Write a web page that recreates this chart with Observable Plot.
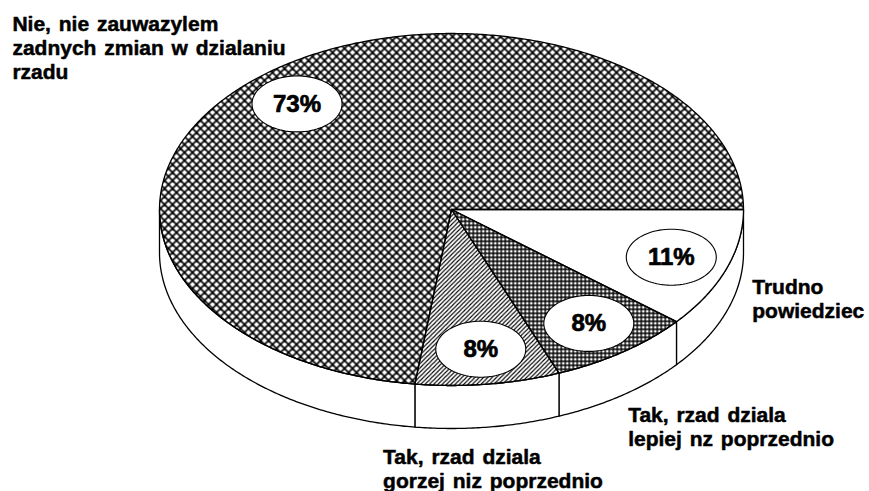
<!DOCTYPE html>
<html><head><meta charset="utf-8">
<script src="https://cdn.jsdelivr.net/npm/d3@7"></script>
<script src="https://cdn.jsdelivr.net/npm/@observablehq/plot@0.6"></script>
<style>
body{margin:0;background:#fff;}
</style></head><body><div id="chart"></div>
<script>
// ---- data (clockwise from 3 o'clock) ----
const categories = ["Trudno powiedziec", "Tak, rzad dziala lepiej nz poprzednio", "Tak, rzad dziala gorzej niz poprzednio", "Nie, nie zauwazylem zadnych zmian w dzialaniu rzadu"];
const categoryLines = [["Trudno", "powiedziec"], ["Tak, rzad dziala", "lepiej nz poprzednio"], ["Tak, rzad dziala", "gorzej niz poprzednio"], ["Nie, nie zauwazylem", "zadnych zmian w dzialaniu", "rzadu"]];
const values = [11, 8, 8, 73];
const percentLabels = ["11%", "8%", "8%", "73%"];

// ---- styles / layout ----
const fills = ["white", "url(#pGrid)", "url(#pDiag)", "url(#pCross)"];
const labelOffsets = [[26, -35], [5, 10], [-105, 20], [-246, -64]]; // dx, dy from slice rim
const W = 869, H = 491;
const CX = 451, CY = 209, RX = 292, RY = 176, DEPTH_PX = 43;
const depth = DEPTH_PX / RY;
const FONT = "'Liberation Sans', Arial, Helvetica, sans-serif";

const total = d3.sum(values);
const ends = Array.from(d3.cumsum(values));
const slices = values.map((v, i) => {
  const a1 = ends[i] / total * 2 * Math.PI;
  const a0 = (ends[i] - v) / total * 2 * Math.PI;
  return {i, a0, a1, mid: (a0 + a1) / 2};
});

function arc(a0, a1, dy = 0) {
  const n = Math.max(2, Math.ceil(Math.abs(a1 - a0) / (Math.PI / 360)));
  return d3.range(n + 1).map(k => {
    const a = a0 + (a1 - a0) * k / n;
    return {x: Math.cos(a), y: Math.sin(a) + dy};
  });
}

const marks = [];
// side walls (front half only)
for (const s of slices) {
  const s0 = Math.max(s.a0, 0), s1 = Math.min(s.a1, Math.PI);
  if (s1 > s0) {
    const pts = [...arc(s0, s1, 0), ...arc(s1, s0, depth)];
    marks.push(Plot.line(pts, {x: "x", y: "y", curve: "linear-closed", fill: "white", stroke: "black", strokeWidth: 1.3}));
  }
}
// top faces
for (const s of slices) {
  const pts = [{x: 0, y: 0}, ...arc(s.a0, s.a1, 0)];
  marks.push(Plot.line(pts, {x: "x", y: "y", curve: "linear-closed", fill: fills[s.i], stroke: "black", strokeWidth: 1.3}));
}
// percent label ellipses
const LR = 0.8, ERX = 45 / RX, ERY = 28 / RY;
for (const s of slices) {
  const cx = LR * Math.cos(s.mid), cy = LR * Math.sin(s.mid);
  const pts = d3.range(96).map(k => {
    const a = k / 96 * 2 * Math.PI;
    return {x: cx + ERX * Math.cos(a), y: cy + ERY * Math.sin(a)};
  });
  marks.push(Plot.line(pts, {x: "x", y: "y", curve: "linear-closed", fill: "white", stroke: "black", strokeWidth: 1.1}));
}
const pctData = slices.map(s => ({x: LR * Math.cos(s.mid), y: LR * Math.sin(s.mid), t: percentLabels[s.i]}));
marks.push(Plot.text(pctData, {x: "x", y: "y", text: "t", fontSize: 24, fontWeight: "bold", fontFamily: FONT, fill: "black", stroke: "black", strokeWidth: 0.7}));

// category labels
slices.forEach(s => {
  const front = Math.sin(s.mid) > 0;
  const p = {x: Math.cos(s.mid), y: Math.sin(s.mid) + (front ? depth : 0), t: categoryLines[s.i].join("\n")};
  marks.push(Plot.text([p], {x: "x", y: "y", text: "t", textAnchor: "start", lineAnchor: "top", lineHeight: 1.15,
    dx: labelOffsets[s.i][0], dy: labelOffsets[s.i][1], fontSize: 21, fontWeight: "bold", fontFamily: FONT,
    fill: "black", stroke: "black", strokeWidth: 0.5}));
});

const svg = Plot.plot({
  width: W, height: H, margin: 0,
  x: {domain: [-CX / RX, (W - CX) / RX], range: [0, W], axis: null},
  y: {domain: [-CY / RY, (H - CY) / RY], range: [0, H], axis: null},
  style: {background: "white", wordSpacing: "2px"},
  marks
});

svg.insertAdjacentHTML("afterbegin", `<defs>
<pattern id="pCross" patternUnits="userSpaceOnUse" width="8" height="8">
<path d="M-4,4L4,12M0,0L8,8M4,-4L12,4M-4,4L4,-4M0,8L8,0M4,12L12,4" stroke="#000" stroke-width="1.7" fill="none"/>
</pattern>
<pattern id="pGrid" patternUnits="userSpaceOnUse" width="4" height="4">
<path d="M0,0.7H4M0.7,0V4" stroke="#000" stroke-width="1.4" fill="none"/>
</pattern>
<pattern id="pDiag" patternUnits="userSpaceOnUse" width="4.3" height="4.3">
<path d="M-2,2L2,-2M0,4.3L4.3,0M2.3,6.3L6.3,2.3" stroke="#000" stroke-width="1.1" fill="none"/>
</pattern>
</defs>`);
document.getElementById("chart").appendChild(svg);
</script>
</body></html>
